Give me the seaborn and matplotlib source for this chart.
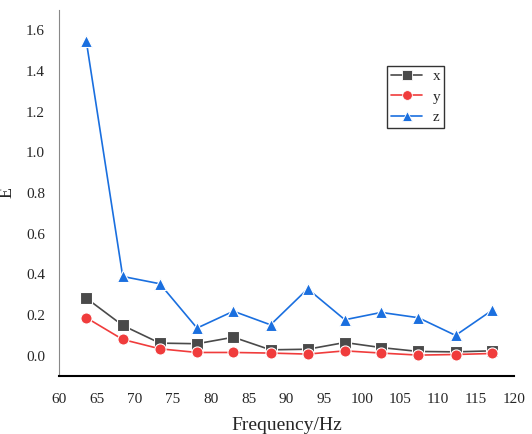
import pandas as pd
import seaborn as sns
import matplotlib.pyplot as plt

# Data
freq = [63.6, 68.4, 73.3, 78.2, 83.0, 87.9, 92.8, 97.7, 102.5, 107.4, 112.3, 117.1]
e_x = [0.282, 0.148, 0.061, 0.058, 0.090, 0.028, 0.031, 0.064, 0.039, 0.020, 0.018, 0.023]
e_y = [0.186, 0.079, 0.033, 0.015, 0.015, 0.012, 0.007, 0.023, 0.012, 0.002, 0.005, 0.010]
e_z = [1.545, 0.389, 0.353, 0.135, 0.218, 0.151, 0.328, 0.176, 0.212, 0.186, 0.099, 0.222]
series = ["x", "y", "z"]

df = pd.DataFrame({"Frequency": freq, "x": e_x, "y": e_y, "z": e_z})
long_df = df.melt(id_vars="Frequency", var_name="axis", value_name="E")

sns.set_style("white")
plt.rcParams["font.family"] = ["Liberation Serif", "DejaVu Serif"]

fig = plt.figure(figsize=(5.32, 4.34), dpi=100)
ax = fig.add_axes([0.111, 0.134, 0.855, 0.843])

palette = {"x": "#4a4a4a", "y": "#f03c3c", "z": "#1a6fdf"}
markers = {"x": "s", "y": "o", "z": "^"}
sns.lineplot(data=long_df, x="Frequency", y="E", hue="axis", style="axis",
             hue_order=series, style_order=series, palette=palette,
             markers=markers, dashes=False, markersize=8, linewidth=1.2,
             markeredgecolor="white", markeredgewidth=0.8, ax=ax)

ax.set_xlim(60, 120)
ax.set_ylim(-0.1, 1.7)
ax.set_xticks(range(60, 121, 5))
ax.set_yticks([0.0, 0.2, 0.4, 0.6, 0.8, 1.0, 1.2, 1.4, 1.6])
ax.set_yticklabels([f"{v:.1f}" for v in ax.get_yticks()])
ax.tick_params(labelsize=11, length=0)
ax.tick_params(axis="x", pad=12)
ax.tick_params(axis="y", pad=10)
ax.set_xlabel("Frequency/Hz", fontsize=14, labelpad=8)
ax.set_ylabel("E", fontsize=13)
ax.yaxis.set_label_coords(-0.095, 0.5)

for s in ["top", "right"]:
    ax.spines[s].set_visible(False)
ax.spines["left"].set_color("#888888")
ax.spines["bottom"].set_color("black")
ax.spines["bottom"].set_linewidth(1.5)

leg = ax.legend(loc="upper left", bbox_to_anchor=(0.722, 0.848), fontsize=11,
                frameon=True, fancybox=False, edgecolor="black",
                handlelength=2.0, handletextpad=0.7, borderpad=0.25,
                labelspacing=0.45, borderaxespad=0)
leg.get_frame().set_linewidth(1.0)
for h in leg.legend_handles:
    h.set_markersize(7)
    h.set_markeredgecolor("white")
    h.set_markeredgewidth(0.6)

fig.savefig("out.png", dpi=100)
